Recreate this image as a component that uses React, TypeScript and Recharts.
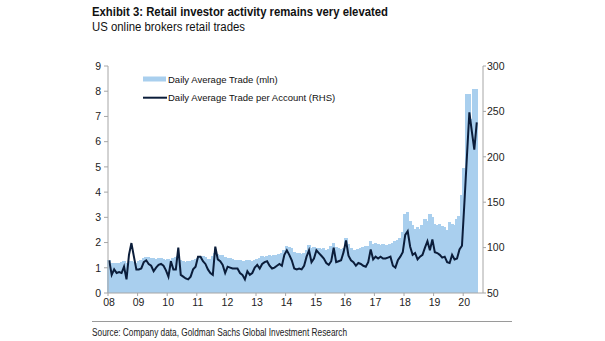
import React from "react";
import { ComposedChart, Bar, Line, XAxis, YAxis } from "recharts";

const years = ["08", "09", "10", "11", "12", "13", "14", "15", "16", "17", "18", "19", "20"];

// Daily average trades (mln), monthly Jan-08 .. Jun-20
const tradesMln = [
  1.3, 1.2, 1.2, 1.18, 1.2, 1.22, 1.25, 1.2, 1.2, 1.28, 1.22, 1.2,
  1.25, 1.32, 1.4, 1.42, 1.42, 1.4, 1.38, 1.35, 1.38, 1.38, 1.35, 1.3,
  1.35, 1.32, 1.38, 1.42, 1.45, 1.32, 1.25, 1.22, 1.25, 1.28, 1.32, 1.35,
  1.4, 1.45, 1.45, 1.42, 1.35, 1.35, 1.45, 1.6, 1.55, 1.52, 1.5, 1.42,
  1.4, 1.38, 1.35, 1.32, 1.3, 1.3, 1.28, 1.25, 1.32, 1.3, 1.28, 1.3,
  1.35, 1.4, 1.45, 1.42, 1.48, 1.5, 1.45, 1.5, 1.52, 1.55, 1.6, 1.72,
  1.85, 1.82, 1.78, 1.62, 1.58, 1.58, 1.56, 1.6, 1.72, 1.9, 1.78, 1.82,
  1.8, 1.78, 1.75, 1.78, 1.72, 1.75, 1.85, 1.98, 1.82, 1.8, 1.75, 1.78,
  2.2, 1.95, 1.8, 1.72, 1.72, 1.75, 1.78, 1.82, 1.85, 1.88, 2.05, 1.95,
  2.0, 1.95, 1.92, 1.95, 1.9, 1.92, 1.95, 2.0, 2.05, 2.1, 2.2, 2.4,
  3.15, 3.2, 2.85, 2.7, 2.55, 2.6, 2.55, 2.7, 2.95, 2.85, 3.15, 3.0,
  2.75, 2.7, 2.72, 2.65, 2.6, 2.5, 2.8, 2.75, 2.7, 2.95, 3.05, 3.9,
  4.95, 7.9, 7.9, 6.9, 8.1, 8.1,
];

// Daily average trades per account (RHS)
const perAccount = [
  86, 70, 76, 72, 73, 72, 79, 65, 92, 105, 90, 76,
  76, 77, 84, 86, 82, 80, 74, 78, 81, 82, 80, 75,
  68, 85, 76, 76, 100, 70, 68, 66, 65, 68, 76, 79,
  90, 90, 85, 82, 76, 72, 70, 101, 87, 85, 81, 72,
  79, 78, 77, 77, 77, 72, 70, 65, 74, 70, 72, 78,
  81, 77, 82, 84, 85, 80, 77, 78, 80, 82, 80, 92,
  97, 92, 86, 77, 76, 77, 76, 80, 90, 97, 84, 88,
  97, 94, 91, 88, 83, 81, 85, 100, 84, 85, 86, 95,
  108, 91, 86, 84, 80, 83, 82, 80, 79, 84, 98, 87,
  90, 88, 90, 88, 88, 89, 90, 80, 78, 86, 90, 95,
  114, 118, 101, 92, 94, 87, 90, 92, 100, 107, 97, 109,
  95, 94, 92, 89, 90, 84, 83, 92, 87, 88, 98, 102,
  150, 200, 249, 228, 208, 238,
];

const leftTicks = [0, 1, 2, 3, 4, 5, 6, 7, 8, 9];
const rightTicks = [50, 100, 150, 200, 250, 300];

const months: string[] = [];
years.forEach((y, k) => {
  const n = k === years.length - 1 ? 6 : 12;
  for (let m = 1; m <= n; m++) months.push(`${y}-${String(m).padStart(2, "0")}`);
});

const data = months.map((m, i) => ({
  month: m,
  trades: tradesMln[i],
  perAccount: perAccount[i],
}));

const yearTicks = years.map((y) => `${y}-01`);

const FONT = "'Liberation Sans', Arial, sans-serif";
const AXIS = "#a6a6a6";
const BAR = "#a9cfee";
const NAVY = "#0b1d3a";
const BAND = 370 / 150; // plot width / number of months

function YearTick(props: any) {
  const { x, y, payload } = props;
  const tx = x - BAND / 2;
  return (
    <g>
      <line x1={tx} x2={tx} y1={y} y2={y + 3} stroke={AXIS} />
      <text x={tx + 1} y={y + 13} textAnchor="middle" fontSize={10.5} fill="#222" fontFamily={FONT}>
        {String(payload.value).slice(0, 2)}
      </text>
    </g>
  );
}

// recharts floors the bar width; fill the whole month band (with overlap) so no seams show
function SolidBar(props: any) {
  const { x, y, width, height } = props;
  if (!height || height <= 0) return null;
  const cx = x + width / 2;
  return (
    <rect
      x={cx - BAND / 2 - 0.6}
      y={y}
      width={BAND + 1.2}
      height={height}
      fill={BAR}
      shapeRendering="crispEdges"
    />
  );
}

export default function App() {
  return (
    <div style={{ position: "absolute", left: 0, top: 0, width: 605, height: 341, background: "#fff" }}>
      <ComposedChart
        width={605}
        height={341}
        data={data}
        margin={{ top: 66, right: 82, bottom: 28, left: 0 }}
        barCategoryGap={0}
        barGap={0}
      >
        <XAxis
          dataKey="month"
          ticks={yearTicks}
          interval={0}
          tickLine={false}
          tickSize={0}
          tickMargin={0}
          axisLine={{ stroke: AXIS }}
          tick={<YearTick />}
          padding={{ left: 0, right: 5 }}
          height={20}
        />
        <YAxis
          yAxisId="left"
          domain={[0, 9]}
          ticks={leftTicks}
          interval={0}
          width={108}
          tickSize={4}
          tickMargin={3}
          axisLine={{ stroke: AXIS }}
          tickLine={{ stroke: AXIS }}
          tick={{ fontSize: 10.5, fill: "#222", fontFamily: FONT }}
        />
        <YAxis
          yAxisId="right"
          orientation="right"
          domain={[50, 300]}
          ticks={rightTicks}
          interval={0}
          width={40}
          tickSize={3}
          tickMargin={1}
          axisLine={{ stroke: AXIS }}
          tickLine={{ stroke: AXIS }}
          tick={{ fontSize: 10.5, fill: "#222", fontFamily: FONT }}
        />
        <Bar
          yAxisId="left"
          dataKey="trades"
          fill={BAR}
          shape={(p: any) => <SolidBar {...p} />}
          isAnimationActive={false}
        />
        <Line
          yAxisId="right"
          dataKey="perAccount"
          type="linear"
          stroke={NAVY}
          strokeWidth={2}
          dot={false}
          isAnimationActive={false}
        />
      </ComposedChart>
      <svg
        width={605}
        height={341}
        style={{ position: "absolute", left: 0, top: 0, pointerEvents: "none" }}
      >
        <text
          x={92}
          y={16}
          fontSize={13}
          fontWeight="bold"
          fontFamily="'Liberation Sans Narrow', 'Liberation Sans', Arial, sans-serif"
          fill="#111"
          textLength={296}
          lengthAdjust="spacingAndGlyphs"
        >
          Exhibit 3: Retail investor activity remains very elevated
        </text>
        <text
          x={92}
          y={31}
          fontSize={12}
          fontFamily="'Liberation Sans Narrow', 'Liberation Sans', Arial, sans-serif"
          fill="#111"
          textLength={153}
          lengthAdjust="spacingAndGlyphs"
        >
          US online brokers retail trades
        </text>

        <rect x={143} y={76.5} width={23} height={5} fill={BAR} />
        <text x={168} y={82.5} fontSize={9.5} fontFamily={FONT} fill="#111">
          Daily Average Trade (mln)
        </text>
        <line x1={143} x2={167} y1={97.7} y2={97.7} stroke={NAVY} strokeWidth={2} />
        <text x={168} y={101.2} fontSize={9.5} fontFamily={FONT} fill="#111">
          Daily Average Trade per Account (RHS)
        </text>

        <line x1={92} x2={512} y1={321.5} y2={321.5} stroke="#9a9a9a" strokeWidth={1} />
        <text
          x={92}
          y={336}
          fontSize={10}
          fontFamily="'Liberation Sans Narrow', 'Liberation Sans', Arial, sans-serif"
          fill="#222"
          textLength={255}
          lengthAdjust="spacingAndGlyphs"
        >
          Source: Company data, Goldman Sachs Global Investment Research
        </text>
      </svg>
    </div>
  );
}
